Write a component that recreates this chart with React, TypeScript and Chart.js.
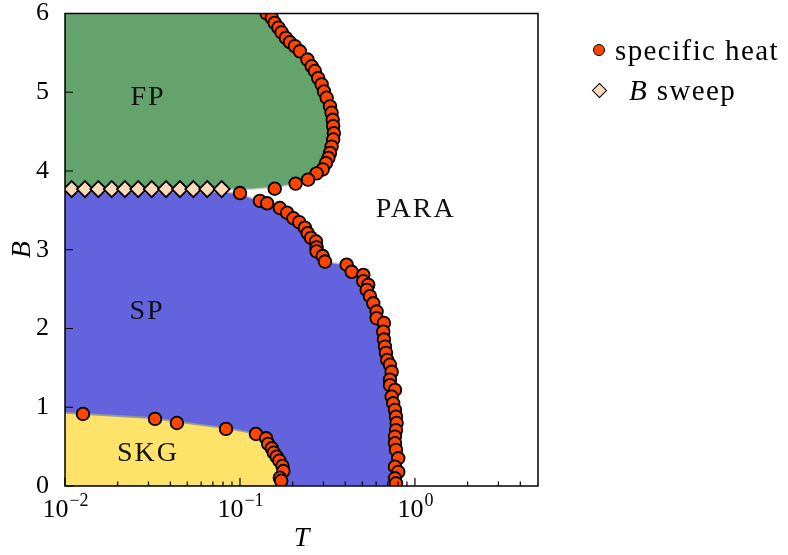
import React, { useEffect, useRef } from "react";
import { Chart, registerables } from "chart.js";

Chart.register(...registerables);

// ---------- data ----------
// specific heat: FP / PARA boundary (top to bottom)
const heatFpT = [0.142, 0.152, 0.158, 0.166, 0.173, 0.183, 0.193, 0.206, 0.22, 0.243, 0.257, 0.268, 0.28, 0.293, 0.302, 0.313, 0.327, 0.334, 0.339, 0.341, 0.344, 0.341, 0.334, 0.327, 0.32, 0.31, 0.297, 0.274, 0.245, 0.208, 0.158, 0.1];
const heatFpB = [6.0, 5.945, 5.88, 5.82, 5.76, 5.69, 5.635, 5.585, 5.52, 5.415, 5.33, 5.27, 5.18, 5.1, 5.01, 4.93, 4.82, 4.74, 4.65, 4.57, 4.48, 4.4, 4.31, 4.23, 4.165, 4.1, 4.02, 3.97, 3.89, 3.84, 3.775, 3.72];
// specific heat: SP / PARA boundary
const heatSpT = [0.13, 0.143, 0.169, 0.186, 0.202, 0.218, 0.235, 0.244, 0.255, 0.272, 0.274, 0.274, 0.297, 0.306, 0.407, 0.435, 0.507, 0.507, 0.541, 0.53, 0.553, 0.578, 0.604, 0.604, 0.665, 0.659, 0.665, 0.674, 0.683, 0.695, 0.72, 0.736, 0.72, 0.72, 0.769, 0.736, 0.751, 0.769, 0.779, 0.786, 0.779, 0.769, 0.769, 0.779, 0.803, 0.769, 0.803, 0.769, 0.779];
const heatSpB = [3.62, 3.59, 3.53, 3.47, 3.4, 3.35, 3.28, 3.21, 3.15, 3.105, 3.03, 2.98, 2.92, 2.85, 2.81, 2.72, 2.68, 2.6, 2.555, 2.49, 2.41, 2.32, 2.215, 2.13, 2.07, 1.96, 1.86, 1.77, 1.69, 1.6, 1.54, 1.45, 1.35, 1.28, 1.22, 1.135, 1.05, 0.966, 0.88, 0.8, 0.71, 0.627, 0.543, 0.458, 0.352, 0.245, 0.18, 0.098, 0.034];
// specific heat: SKG / SP boundary
const heatSkgT = [0.01267, 0.0327, 0.0436, 0.0832, 0.1234, 0.141, 0.145, 0.152, 0.156, 0.162, 0.168, 0.175, 0.177, 0.169, 0.172];
const heatSkgB = [0.915, 0.852, 0.8, 0.725, 0.661, 0.606, 0.534, 0.479, 0.423, 0.372, 0.322, 0.254, 0.19, 0.105, 0.067];

// B sweep
const sweepT = [0.01092, 0.013, 0.0155, 0.0185, 0.022, 0.0262, 0.0313, 0.0378, 0.0454, 0.0541, 0.065, 0.0786];
const sweepB = [3.77, 3.77, 3.77, 3.77, 3.77, 3.77, 3.77, 3.77, 3.77, 3.77, 3.77, 3.77];

// phase regions (outline polygons)
const fpEdgeT = [0.01, 0.142, 0.152, 0.166, 0.183, 0.206, 0.243, 0.268, 0.293, 0.313, 0.334, 0.341, 0.344, 0.341, 0.327, 0.31, 0.297, 0.274, 0.245, 0.208, 0.17, 0.12, 0.08, 0.01];
const fpEdgeB = [6.0, 6.0, 5.945, 5.82, 5.69, 5.585, 5.415, 5.27, 5.1, 4.93, 4.74, 4.57, 4.48, 4.4, 4.23, 4.1, 4.02, 3.97, 3.89, 3.84, 3.8, 3.772, 3.765, 3.765];
const spEdgeT = [0.01, 0.08, 0.1, 0.13, 0.169, 0.202, 0.235, 0.255, 0.274, 0.297, 0.306, 0.407, 0.507, 0.541, 0.578, 0.604, 0.665, 0.674, 0.695, 0.72, 0.736, 0.751, 0.779, 0.786, 0.775, 0.785, 0.78, 0.01];
const spEdgeB = [3.74, 3.735, 3.71, 3.62, 3.53, 3.4, 3.28, 3.15, 3.0, 2.92, 2.85, 2.81, 2.64, 2.555, 2.32, 2.17, 2.0, 1.77, 1.6, 1.45, 1.2, 1.05, 0.88, 0.75, 0.5, 0.3, 0.0, 0.0];
const skgEdgeT = [0.01, 0.0327, 0.0436, 0.0832, 0.1234, 0.141, 0.152, 0.162, 0.175, 0.178, 0.176, 0.01];
const skgEdgeB = [0.93, 0.86, 0.815, 0.735, 0.665, 0.606, 0.479, 0.372, 0.254, 0.15, 0.0, 0.0];

// region labels
const regionNames = ["FP", "SP", "SKG", "PARA"];
const regionT = [0.0298, 0.0294, 0.0298, 1.01];
const regionB = [4.93, 2.21, 0.41, 3.51];

// axes
const yTicks = [0, 1, 2, 3, 4, 5, 6];
const xMajor = [0.01, 0.1, 1];
const xMajorExp = ["\u22122", "\u22121", "0"];
const xMinor = [0.02, 0.03, 0.04, 0.05, 0.06, 0.07, 0.08, 0.09, 0.2, 0.3, 0.4, 0.5, 0.6, 0.7, 0.8, 0.9, 2, 3, 4];
const xMin = 0.01;
const xMax = 5.05;
const yMin = 0;
const yMax = 6;

const SERIF = '"Liberation Serif", "DejaVu Serif", serif';

const pts = (xs: number[], ys: number[]) => xs.map((x, i) => ({ x, y: ys[i] }));

const overlayPlugin = {
  id: "overlay",
  afterDatasetsDraw(chart: any) {
    const { ctx, chartArea: a, scales } = chart;
    const xs = scales.x;
    const ys = scales.y;
    ctx.save();
    // region labels
    ctx.fillStyle = "#111";
    ctx.font = `28px ${SERIF}`;
    try {
      ctx.letterSpacing = "2px";
    } catch (e) {}
    ctx.textAlign = "center";
    ctx.textBaseline = "middle";
    regionNames.forEach((n, i) => {
      ctx.fillText(n, xs.getPixelForValue(regionT[i]), ys.getPixelForValue(regionB[i]));
    });
    try {
      ctx.letterSpacing = "0px";
    } catch (e) {}
    // frame
    ctx.strokeStyle = "#000";
    ctx.lineWidth = 1.5;
    ctx.strokeRect(a.left, a.top, a.right - a.left, a.bottom - a.top);
    // inward ticks
    ctx.lineWidth = 1.2;
    ctx.beginPath();
    xMajor.forEach((v) => {
      const px = xs.getPixelForValue(v);
      ctx.moveTo(px, a.bottom);
      ctx.lineTo(px, a.bottom - 8);
    });
    xMinor.forEach((v) => {
      const px = xs.getPixelForValue(v);
      ctx.moveTo(px, a.bottom);
      ctx.lineTo(px, a.bottom - 4.5);
    });
    yTicks.forEach((v) => {
      const py = ys.getPixelForValue(v);
      ctx.moveTo(a.left, py);
      ctx.lineTo(a.left + 8, py);
    });
    ctx.stroke();
    // x tick labels with superscripts
    ctx.fillStyle = "#000";
    ctx.textAlign = "left";
    ctx.textBaseline = "alphabetic";
    xMajor.forEach((v, i) => {
      const px = xs.getPixelForValue(v);
      ctx.font = `26px ${SERIF}`;
      const wBase = ctx.measureText("10").width;
      ctx.font = `18px ${SERIF}`;
      const wExp = ctx.measureText(xMajorExp[i]).width;
      const start = px - (wBase + wExp) / 2;
      const base = a.bottom + 31;
      ctx.font = `26px ${SERIF}`;
      ctx.fillText("10", start, base);
      ctx.font = `18px ${SERIF}`;
      ctx.fillText(xMajorExp[i], start + wBase + 1, base - 11);
    });
    ctx.restore();
  },
};

export default function App() {
  const ref = useRef<HTMLCanvasElement | null>(null);

  useEffect(() => {
    if (!ref.current) return;
    const edge = "rgba(200,200,200,0.9)";
    const chart = new Chart(ref.current, {
      type: "scatter",
      data: {
        datasets: [
          {
            label: "specific heat",
            data: [...pts(heatFpT, heatFpB), ...pts(heatSpT, heatSpB), ...pts(heatSkgT, heatSkgB)],
            pointStyle: "circle",
            pointRadius: 6.3,
            backgroundColor: "#ff4500",
            borderColor: "#000",
            borderWidth: 1.8,
            order: 0,
          } as any,
          {
            label: "B sweep",
            data: pts(sweepT, sweepB),
            pointStyle: "rectRot",
            pointRadius: 8,
            backgroundColor: "#ffdab9",
            borderColor: "#000",
            borderWidth: 1.8,
            order: 1,
          } as any,
          {
            type: "line",
            label: "SKG",
            data: pts(skgEdgeT, skgEdgeB),
            fill: "shape",
            backgroundColor: "#fde36a",
            borderColor: "rgba(150,150,150,0.9)",
            borderWidth: 2,
            pointRadius: 0,
            tension: 0,
            order: 5,
          } as any,
          {
            type: "line",
            label: "SP",
            data: pts(spEdgeT, spEdgeB),
            fill: "shape",
            backgroundColor: "#6363dd",
            borderColor: edge,
            borderWidth: 1.5,
            pointRadius: 0,
            tension: 0,
            order: 6,
          } as any,
          {
            type: "line",
            label: "FP",
            data: pts(fpEdgeT, fpEdgeB),
            fill: "shape",
            backgroundColor: "#64a36b",
            borderColor: edge,
            borderWidth: 1.5,
            pointRadius: 0,
            tension: 0,
            order: 7,
          } as any,
        ],
      },
      options: {
        animation: false,
        responsive: false,
        maintainAspectRatio: false,
        devicePixelRatio: 1,
        layout: { padding: { top: 13.5, right: 250, bottom: 0, left: 0 } },
        plugins: { legend: { display: false }, tooltip: { enabled: false } },
        scales: {
          x: {
            type: "logarithmic",
            min: xMin,
            max: xMax,
            grid: { display: false },
            border: { display: false },
            ticks: { display: false },
            title: {
              display: true,
              text: "T",
              color: "#000",
              font: { family: SERIF, size: 28, style: "italic", lineHeight: 1.2 },
              padding: { top: 0, bottom: 0 },
            },
            afterFit: (s: any) => {
              s.height = 69;
              s.paddingLeft = 0;
              s.paddingRight = 0;
            },
          },
          y: {
            type: "linear",
            min: yMin,
            max: yMax,
            grid: { display: false },
            border: { display: false },
            afterBuildTicks: (s: any) => {
              s.ticks = yTicks.map((v) => ({ value: v }));
            },
            ticks: {
              color: "#000",
              padding: 8,
              font: { family: SERIF, size: 26 },
              callback: (v: any) => String(v),
            },
            title: {
              display: true,
              text: "B",
              color: "#000",
              font: { family: SERIF, size: 28, style: "italic", lineHeight: 1.2 },
              padding: { top: 6, bottom: 0 },
            },
            afterFit: (s: any) => {
              s.width = 65;
              s.paddingTop = 0;
              s.paddingBottom = 0;
            },
          },
        },
      } as any,
      plugins: [overlayPlugin],
    });
    return () => chart.destroy();
  }, []);

  const textStyle: React.CSSProperties = {
    fontFamily: SERIF,
    fontSize: 29,
    letterSpacing: "1.4px",
    color: "#000",
    whiteSpace: "nowrap",
    lineHeight: "30px",
  };

  return (
    <div style={{ position: "fixed", left: 0, top: 0, width: 788, height: 555, background: "#fff" }}>
      <canvas ref={ref} width={788} height={555} style={{ display: "block" }} />
      <div style={{ position: "absolute", left: 593, top: 35, ...textStyle }}>
        <div style={{ display: "flex", alignItems: "center", height: 30 }}>
          <span
            style={{
              display: "inline-block",
              width: 10,
              height: 10,
              borderRadius: "50%",
              background: "#ff4500",
              border: "1.8px solid #000",
              marginRight: 10,
            }}
          />
          <span>specific heat</span>
        </div>
        <div style={{ display: "flex", alignItems: "center", height: 30, marginTop: 10 }}>
          <span
            style={{
              display: "inline-block",
              width: 9,
              height: 9,
              background: "#ffdab9",
              border: "1.8px solid #000",
              transform: "rotate(45deg)",
              marginLeft: 1,
              marginRight: 24,
            }}
          />
          <span>
            <i>B</i> sweep
          </span>
        </div>
      </div>
    </div>
  );
}
